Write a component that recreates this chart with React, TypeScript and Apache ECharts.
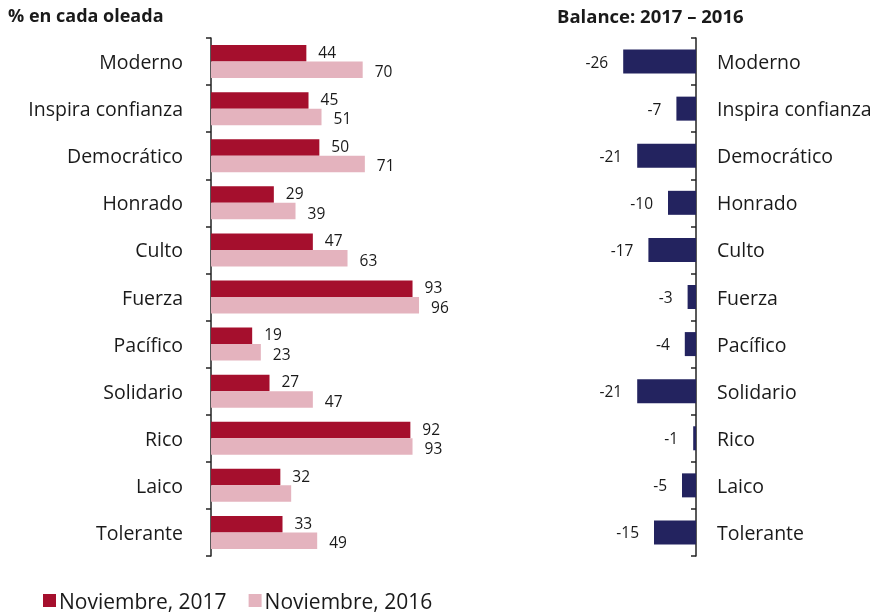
import React, { useEffect, useRef } from "react";
import * as echarts from "echarts";

const categories = ["Moderno", "Inspira confianza", "Democrático", "Honrado", "Culto", "Fuerza", "Pacífico", "Solidario", "Rico", "Laico", "Tolerante"];
const nov2017 = [44, 45, 50, 29, 47, 93, 19, 27, 92, 32, 33];
const nov2016 = [70, 51, 71, 39, 63, 96, 23, 47, 93, 37, 49];
const hidden2016Labels = ["Laico"];
const balance = [-26, -7, -21, -10, -17, -3, -4, -21, -1, -5, -15];

const FONT = "'Open Sans', sans-serif";
const TXT = "#1a1a1a";

export default function App() {
  const ref = useRef<HTMLDivElement>(null);
  useEffect(() => {
    if (!ref.current) return;
    const chart = echarts.init(ref.current, null, { renderer: "svg" });
    const top = 38;
    const height = 518;
    const valueLabel = { fontFamily: FONT, fontSize: 15.5, lineHeight: 15, color: TXT };
    chart.setOption({
      animation: false,
      textStyle: { fontFamily: FONT, color: TXT },
      title: [
        { text: "% en cada oleada", left: 8, top: 6, padding: 0, textStyle: { fontFamily: FONT, fontSize: 18, fontWeight: "bold", color: TXT } },
        { text: "Balance: 2017 – 2016", left: 557, top: 6, padding: 0, textStyle: { fontFamily: FONT, fontSize: 18.5, fontWeight: "bold", color: TXT } },
      ],
      legend: {
        left: 43,
        top: 590,
        padding: 0,
        icon: "rect",
        itemWidth: 13,
        itemHeight: 13,
        itemGap: 22,
        textStyle: { fontFamily: FONT, fontSize: 21, color: TXT, padding: [0, 0, 0, -2] },
        data: ["Noviembre, 2017", "Noviembre, 2016"],
      },
      grid: [
        { left: 211, top, width: 216.7, height },
        { left: 612, top, width: 84, height },
      ],
      xAxis: [
        { gridIndex: 0, type: "value", min: 0, max: 100, show: false },
        { gridIndex: 1, type: "value", min: -30, max: 0, show: false },
      ],
      yAxis: [
        {
          gridIndex: 0,
          type: "category",
          data: categories,
          inverse: true,
          axisLine: { show: true, lineStyle: { color: "#222", width: 1.5 } },
          axisTick: { show: true, length: 5, lineStyle: { color: "#222", width: 1.5 } },
          axisLabel: { fontFamily: FONT, fontSize: 19.5, color: TXT, margin: 28 },
        },
        {
          gridIndex: 1,
          type: "category",
          data: categories,
          inverse: true,
          position: "right",
          axisLine: { show: true, lineStyle: { color: "#222", width: 1.5 } },
          axisTick: { show: true, inside: true, length: 5, lineStyle: { color: "#222", width: 1.5 } },
          axisLabel: { fontFamily: FONT, fontSize: 19.5, color: TXT, margin: 21 },
        },
      ],
      series: [
        {
          name: "Noviembre, 2017",
          type: "bar",
          xAxisIndex: 0,
          yAxisIndex: 0,
          data: nov2017,
          barWidth: 16.5,
          barGap: "0%",
          itemStyle: { color: "#A50F2D" },
          label: { show: true, position: "right", distance: 12, offset: [0, -1.5], ...valueLabel },
        },
        {
          name: "Noviembre, 2016",
          type: "bar",
          xAxisIndex: 0,
          yAxisIndex: 0,
          data: nov2016.map((v, i) => ({
            value: v,
            label: { show: !hidden2016Labels.includes(categories[i]) },
          })),
          barWidth: 16.5,
          barGap: "0%",
          itemStyle: { color: "#E4B3BE" },
          label: { show: true, position: "right", distance: 12, offset: [0, 1.5], ...valueLabel },
        },
        {
          name: "Balance",
          type: "bar",
          xAxisIndex: 1,
          yAxisIndex: 1,
          data: balance,
          barWidth: 24,
          itemStyle: { color: "#23235F" },
          label: { show: true, position: "left", distance: 15, ...valueLabel },
        },
      ],
    });
    return () => chart.dispose();
  }, []);
  return <div ref={ref} style={{ position: "fixed", left: 0, top: 0, width: 877, height: 614 }} />;
}
